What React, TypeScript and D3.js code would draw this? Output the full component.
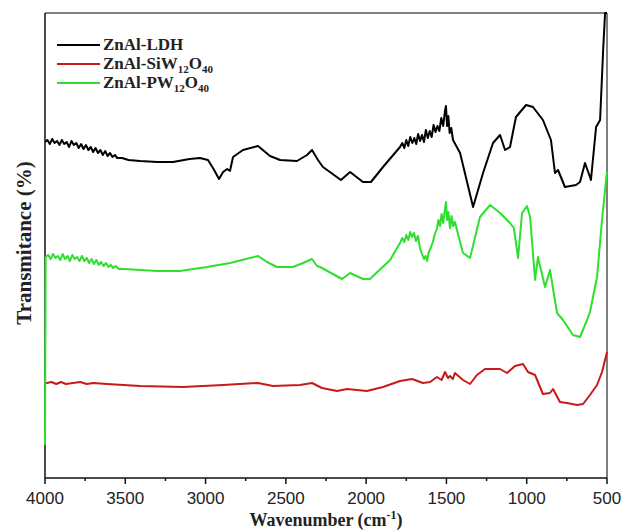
import React from "react";
import * as d3 from "d3";

// [wavenumber (cm-1), transmittance (arbitrary units)]
const ldhData: [number, number][] = [
  [4000, 336], [3985, 338], [3970, 334], [3955, 339], [3940, 335], [3925, 337], [3910, 333],
  [3895, 338], [3880, 334], [3865, 336], [3850, 331], [3835, 337], [3820, 333], [3805, 335],
  [3790, 330], [3775, 334], [3760, 329], [3745, 333], [3730, 328], [3715, 331], [3700, 326],
  [3685, 330], [3670, 325], [3655, 328], [3640, 323], [3625, 327], [3610, 322], [3595, 325],
  [3580, 321], [3565, 323], [3550, 320], [3520, 320], [3480, 318], [3408, 317], [3300, 316],
  [3203, 316], [3100, 319], [3035, 320], [2985, 318], [2954, 310], [2916, 299], [2891, 306],
  [2866, 309], [2848, 307], [2829, 321], [2767, 328], [2673, 332], [2599, 322], [2536, 318],
  [2431, 317], [2368, 323], [2337, 328], [2300, 318], [2269, 311], [2157, 298], [2100, 306],
  [2020, 296], [1970, 296], [1895, 311], [1789, 331], [1775, 335], [1762, 330], [1750, 338],
  [1738, 332], [1725, 341], [1712, 335], [1700, 340], [1688, 334], [1676, 344], [1664, 337],
  [1652, 343], [1640, 336], [1628, 348], [1616, 340], [1604, 347], [1592, 341], [1580, 353],
  [1568, 346], [1556, 352], [1544, 347], [1532, 360], [1520, 352], [1510, 366], [1503, 372],
  [1496, 352], [1488, 362], [1480, 345], [1470, 350], [1459, 338], [1415, 325], [1334, 271],
  [1272, 305], [1210, 335], [1166, 343], [1135, 328], [1104, 331], [1067, 361], [1004, 373],
  [961, 371], [899, 358], [849, 338], [824, 305], [805, 308], [762, 291], [693, 293],
  [668, 296], [637, 315], [606, 301], [600, 298], [568, 351], [543, 358], [524, 428],
  [512, 465], [500, 465],
];

const siwData: [number, number][] = [
  [4000, 95], [3988, 95], [3960, 96], [3930, 94], [3900, 96], [3870, 94], [3826, 95],
  [3780, 96], [3740, 94], [3700, 95], [3614, 94], [3408, 92], [3141, 91], [2891, 93],
  [2673, 95], [2580, 92], [2412, 93], [2337, 95], [2275, 90], [2181, 87], [2119, 89],
  [1995, 87], [1895, 91], [1789, 97], [1714, 99], [1646, 95], [1602, 96], [1559, 101],
  [1530, 98], [1509, 106], [1490, 100], [1478, 102], [1460, 99], [1447, 105], [1397, 98],
  [1353, 94], [1310, 103], [1260, 109], [1166, 109], [1123, 105], [1073, 112], [1023, 114],
  [992, 106], [948, 103], [899, 84], [855, 85], [836, 89], [793, 76], [749, 75],
  [687, 73], [649, 74], [606, 83], [562, 93], [531, 106], [500, 126],
];

const pwData: [number, number][] = [
  [4000, 33], [3996, 221], [3980, 223], [3965, 219], [3950, 224], [3935, 220], [3920, 222],
  [3905, 218], [3890, 224], [3875, 219], [3860, 222], [3845, 217], [3830, 223], [3815, 219],
  [3800, 221], [3785, 217], [3770, 222], [3755, 217], [3740, 220], [3725, 215], [3710, 219],
  [3695, 214], [3680, 218], [3665, 213], [3650, 216], [3635, 212], [3620, 215], [3605, 211],
  [3590, 213], [3575, 210], [3560, 212], [3540, 209], [3500, 209], [3408, 208], [3302, 207],
  [3159, 207], [2991, 211], [2848, 215], [2673, 222], [2617, 216], [2555, 211], [2455, 211],
  [2393, 215], [2337, 219], [2306, 212], [2287, 211], [2150, 199], [2100, 205], [2020, 199],
  [1976, 199], [1851, 218], [1789, 235], [1775, 240], [1762, 236], [1750, 243], [1738, 238],
  [1725, 246], [1714, 241], [1702, 245], [1690, 237], [1677, 242], [1665, 230], [1652, 224],
  [1640, 219], [1630, 222], [1620, 217], [1610, 226], [1598, 230], [1585, 236], [1572, 244],
  [1560, 249], [1550, 258], [1540, 252], [1530, 264], [1520, 255], [1510, 268], [1503, 276],
  [1496, 258], [1488, 266], [1478, 250], [1468, 262], [1458, 252], [1447, 256], [1397, 225],
  [1353, 220], [1291, 261], [1228, 273], [1166, 265], [1104, 255], [1080, 250], [1054, 220],
  [1029, 265], [998, 272], [979, 261], [948, 198], [930, 221], [886, 191], [855, 208],
  [811, 165], [774, 158], [712, 143], [668, 141], [624, 158], [606, 166], [562, 201],
  [531, 258], [506, 298], [500, 306],
];

const majorTicks = [4000, 3500, 3000, 2500, 2000, 1500, 1000, 500];
const minorTicks = [3750, 3250, 2750, 2250, 1750, 1250, 750];

const legendItems = [
  { base: "ZnAl-LDH", sub: [] as [string, string][], color: "#000000" },
  { base: "ZnAl-SiW", sub: [["12", "O"], ["40", ""]] as [string, string][], color: "#c81a1a" },
  { base: "ZnAl-PW", sub: [["12", "O"], ["40", ""]] as [string, string][], color: "#2ee02e" },
];

const serif = "'Liberation Serif', 'Times New Roman', serif";

export default function App() {
  const W = 626, H = 531;
  const left = 45, right = 607, top = 13, bottom = 478;
  const x = d3.scaleLinear().domain([4000, 500]).range([left, right]);
  const y = d3.scaleLinear().domain([0, 465]).range([bottom, top]);
  const line = d3.line<[number, number]>().x(d => x(d[0])).y(d => y(d[1]));

  const series = [
    { data: siwData, color: legendItems[1].color },
    { data: pwData, color: legendItems[2].color },
    { data: ldhData, color: legendItems[0].color },
  ];

  return (
    <svg width={W} height={H} style={{ position: "absolute", left: 0, top: 0, background: "#fff" }}>
      {/* frame */}
      <line x1={left} y1={top} x2={right} y2={top} stroke="#555" strokeWidth={1.5} />
      <line x1={right} y1={top} x2={right} y2={bottom} stroke="#555" strokeWidth={1.5} />
      <line x1={left} y1={top} x2={left} y2={bottom} stroke="#111" strokeWidth={1.5} />
      <line x1={left} y1={bottom} x2={right} y2={bottom} stroke="#111" strokeWidth={1.5} />
      {majorTicks.map(t => (
        <g key={"M" + t}>
          <line x1={x(t)} x2={x(t)} y1={bottom} y2={bottom + 6} stroke="#111" strokeWidth={1.5} />
          <text x={x(t)} y={504} textAnchor="middle" fontFamily="'Liberation Sans', Arial, sans-serif" fontSize={17} fill="#222">{t}</text>
        </g>
      ))}
      {minorTicks.map(t => (
        <line key={"m" + t} x1={x(t)} x2={x(t)} y1={bottom} y2={bottom + 3} stroke="#111" strokeWidth={1.5} />
      ))}
      {/* curves */}
      {series.map((s, i) => (
        <path key={i} d={line(s.data) || ""} fill="none" stroke={s.color} strokeWidth={2} strokeLinejoin="round" />
      ))}
      {/* legend */}
      {legendItems.map((it, i) => {
        const ly = 45 + i * 19;
        return (
          <g key={"l" + i}>
            <line x1={57} x2={100} y1={ly} y2={ly} stroke={it.color} strokeWidth={2} />
            <text x={103} y={ly + 5} fontFamily={serif} fontSize={17} fontWeight="bold" fill="#222">
              {it.base}
              {it.sub.map(([s, after], j) => (
                <React.Fragment key={j}>
                  <tspan fontSize={11} dy={4}>{s}</tspan>
                  {after ? <tspan fontSize={17} dy={-4}>{after}</tspan> : null}
                </React.Fragment>
              ))}
            </text>
          </g>
        );
      })}
      {/* axis titles */}
      <text x={326} y={526} textAnchor="middle" fontFamily={serif} fontSize={18} fontWeight="bold" fill="#222">
        Wavenumber (cm<tspan fontSize={12} dy={-7}>-1</tspan><tspan dy={7}>)</tspan>
      </text>
      <text transform={`translate(31,243) rotate(-90)`} textAnchor="middle" fontFamily={serif} fontSize={21} fontWeight="bold" fill="#222">
        Transmitance (%)
      </text>
    </svg>
  );
}
